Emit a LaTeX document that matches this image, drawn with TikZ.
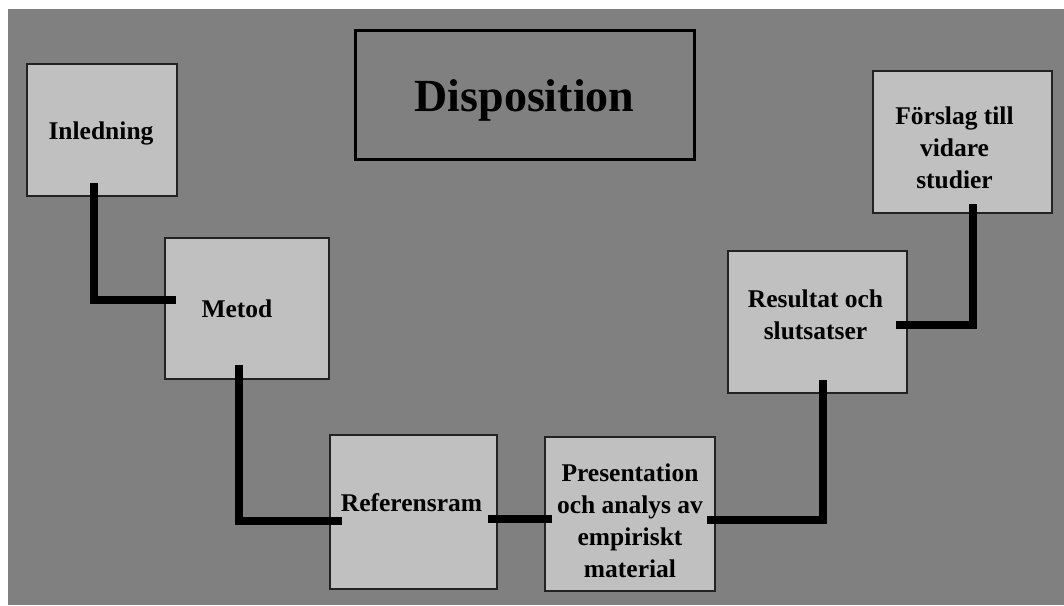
\documentclass[tikz,border=0pt]{standalone}
\usepackage{fontspec}
\setmainfont{Liberation Serif}
\definecolor{bggray}{RGB}{128,128,128}
\definecolor{boxgray}{RGB}{192,192,192}
\definecolor{edge}{RGB}{34,34,34}
\begin{document}
\begin{tikzpicture}[x=1pt,y=-1pt,
  stepbox/.style={draw=edge,line width=1.2pt,fill=boxgray,inner sep=0pt,outer sep=0pt},
  txt/.style={font=\bfseries\fontsize{25.5}{32}\selectfont,align=center,inner sep=0pt},
  conn/.style={line width=8pt,draw=black,line cap=butt,line join=miter}]
\useasboundingbox (0,0) rectangle (1064,605);
\fill[white] (0,0) rectangle (1064,605);
\fill[bggray] (8,9) rectangle (1064,605);
% title
\node[draw=black,line width=3pt,inner sep=0pt,minimum width=339pt,minimum height=129pt,
  label={[inner sep=0pt,yshift=-6pt,font=\bfseries\fontsize{46}{52}\selectfont]center:Disposition}]
  (disp) at (524.5,94.5) {};
% boxes
\node[stepbox,minimum width=150pt,minimum height=132pt,
  label={[txt,xshift=-1pt,yshift=-3pt]center:Inledning}] (inl) at (102,130) {};
\node[stepbox,minimum width=164pt,minimum height=141pt,
  label={[txt,xshift=-10pt]center:Metod}] (met) at (247,308.5) {};
\node[stepbox,minimum width=167pt,minimum height=154pt,
  label={[txt,xshift=-2pt,yshift=9.5pt]center:Referensram}] (ref) at (413.5,512) {};
\node[stepbox,minimum width=170pt,minimum height=154pt,
  label={[txt,yshift=-7pt]center:Presentation\\och analys av\\empiriskt\\material}] (pre) at (630,514) {};
\node[stepbox,minimum width=179pt,minimum height=142pt,
  label={[txt,xshift=-2pt,yshift=7pt]center:Resultat och\\slutsatser}] (res) at (817.5,322) {};
\node[stepbox,minimum width=179pt,minimum height=142pt,
  label={[txt,xshift=-8pt,yshift=-6pt]center:Förslag till\\vidare\\studier}] (fors) at (962.5,142) {};
% connectors
\draw[conn] ([xshift=-8pt,yshift=13pt]inl.south) |- ([xshift=11pt,yshift=8.5pt]met.west);
\draw[conn] ([xshift=-8pt,yshift=14pt]met.south) |- ([xshift=12pt,yshift=-9pt]ref.west);
\draw[conn] ([xshift=-9pt,yshift=-7pt]ref.east) -- ([xshift=7pt,yshift=-5pt]pre.west);
\draw[conn] ([xshift=-8pt,yshift=-6pt]pre.east) -| ([xshift=5.5pt,yshift=13pt]res.south);
\draw[conn] ([xshift=-11pt,yshift=-3pt]res.east) -| ([xshift=10.5pt,yshift=9pt]fors.south);
\end{tikzpicture}
\end{document}
